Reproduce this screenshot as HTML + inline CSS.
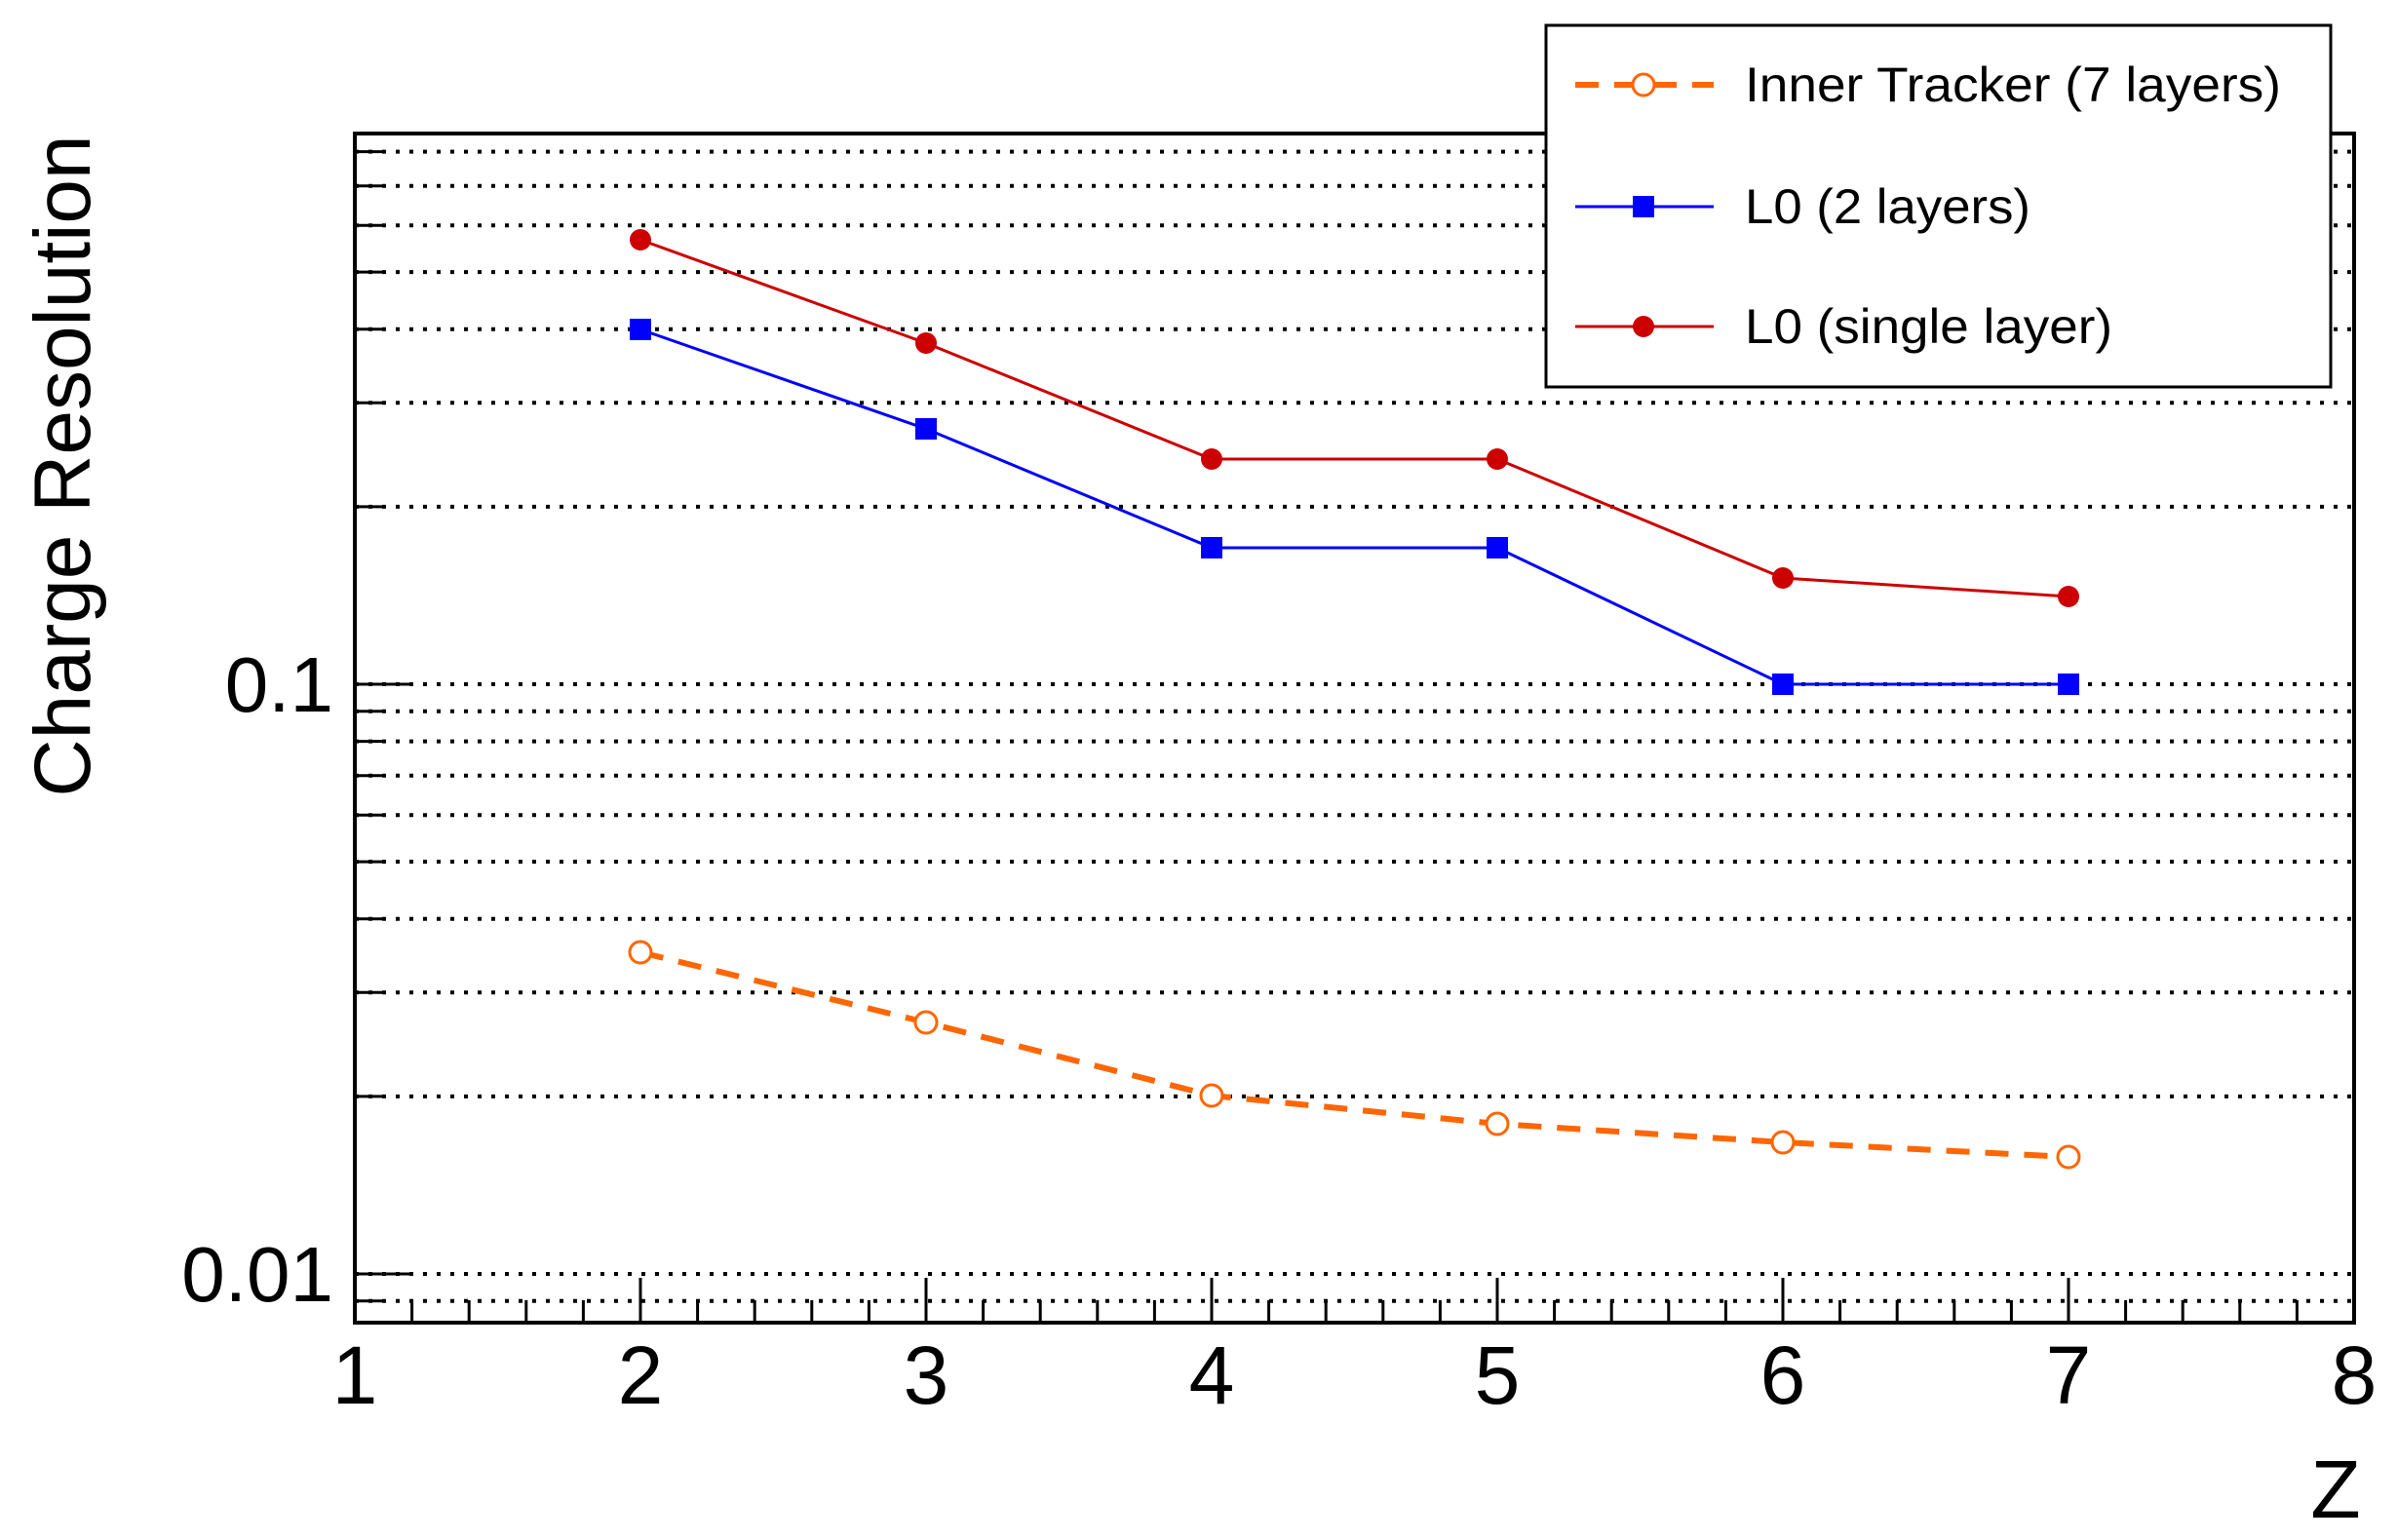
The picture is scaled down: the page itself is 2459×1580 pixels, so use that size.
<!DOCTYPE html>
<html><head><meta charset="utf-8"><style>
html,body{margin:0;padding:0;background:#fff;}
svg{display:block;font-family:"Liberation Sans",sans-serif;}
</style></head><body>
<svg id="s" width="2459" height="1580" xmlns="http://www.w3.org/2000/svg"></svg>
<script>
var s=document.getElementById('s');
var L=364,R=2415,T=137,B=1357,Y01=702,DEC=605;
function X(z){return L+(z-1)*(R-L)/7;}
function Y(v){return Y01-Math.log10(v/0.1)*DEC;}
var h='';
var vals=[0.009];
for(var k=1;k<=9;k++)vals.push(k*0.01);
for(var k=1;k<=8;k++)vals.push(k*0.1);
vals.forEach(function(v){
 var y=Y(v).toFixed(1);
 h+='<line x1="'+L+'" x2="'+R+'" y1="'+y+'" y2="'+y+'" stroke="#000" stroke-width="4" stroke-dasharray="4 10"/>';
 var maj=Math.abs(v-0.01)<1e-9||Math.abs(v-0.1)<1e-9;
 h+='<line x1="'+L+'" x2="'+(L+(maj?59:31))+'" y1="'+y+'" y2="'+y+'" stroke="#000" stroke-width="3"/>';
});
for(var i=0;i<=35;i++){
 var z=1+i/5,x=X(z).toFixed(1),maj=(i%5==0);
 h+='<line x1="'+x+'" x2="'+x+'" y1="'+B+'" y2="'+(B-(maj?46:23))+'" stroke="#000" stroke-width="3"/>';
 if(maj)h+='<text x="'+x+'" y="1440" font-size="84" text-anchor="middle">'+z+'</text>';
}
h+='<rect x="'+L+'" y="'+T+'" width="'+(R-L)+'" height="'+(B-T)+'" fill="none" stroke="#000" stroke-width="4"/>';
h+='<text x="342" y="730" font-size="80" text-anchor="end">0.1</text>';
h+='<text x="342" y="1335" font-size="80" text-anchor="end">0.01</text>';
h+='<text x="2396" y="1557" font-size="84" text-anchor="middle">Z</text>';
h+='<text transform="translate(92,478) rotate(-90)" font-size="82" text-anchor="middle">Charge Resolution</text>';
var zs=[2,3,4,5,6,7];
var red=[246,352,471,471,593,612],blue=[338,440,562,562,702,702],org=[977,1049,1124,1153,1172,1187];
function pts(a){return zs.map(function(z,i){return X(z).toFixed(1)+','+a[i];}).join(' ');}
h+='<polyline points="'+pts(org)+'" fill="none" stroke="#ff6600" stroke-width="6" stroke-dasharray="24 16"/>';
h+='<polyline points="'+pts(blue)+'" fill="none" stroke="#0000ff" stroke-width="3"/>';
h+='<polyline points="'+pts(red)+'" fill="none" stroke="#cc0000" stroke-width="3"/>';
zs.forEach(function(z,i){var x=X(z);
 h+='<circle cx="'+x+'" cy="'+org[i]+'" r="11" fill="#fff" stroke="#ff6600" stroke-width="3"/>';
 h+='<rect x="'+(x-11)+'" y="'+(blue[i]-11)+'" width="22" height="22" fill="#0000ff"/>';
 h+='<circle cx="'+x+'" cy="'+red[i]+'" r="11" fill="#cc0000"/>';
});
h+='<rect x="1586" y="26" width="805" height="371" fill="#fff" stroke="#000" stroke-width="3"/>';
h+='<line x1="1616" x2="1758" y1="87" y2="87" stroke="#ff6600" stroke-width="6" stroke-dasharray="24 16"/>';
h+='<circle cx="1686" cy="87" r="11" fill="#fff" stroke="#ff6600" stroke-width="3"/>';
h+='<line x1="1616" x2="1758" y1="212" y2="212" stroke="#0000ff" stroke-width="3"/>';
h+='<rect x="1675" y="201" width="22" height="22" fill="#0000ff"/>';
h+='<line x1="1616" x2="1758" y1="335" y2="335" stroke="#cc0000" stroke-width="3"/>';
h+='<circle cx="1686" cy="335" r="11" fill="#cc0000"/>';
h+='<text x="1790" y="104" font-size="50" textLength="550" lengthAdjust="spacingAndGlyphs">Inner Tracker (7 layers)</text>';
h+='<text x="1790" y="229" font-size="50" textLength="293" lengthAdjust="spacingAndGlyphs">L0 (2 layers)</text>';
h+='<text x="1790" y="352" font-size="50" textLength="377" lengthAdjust="spacingAndGlyphs">L0 (single layer)</text>';
s.innerHTML=h;
</script>
</body></html>
